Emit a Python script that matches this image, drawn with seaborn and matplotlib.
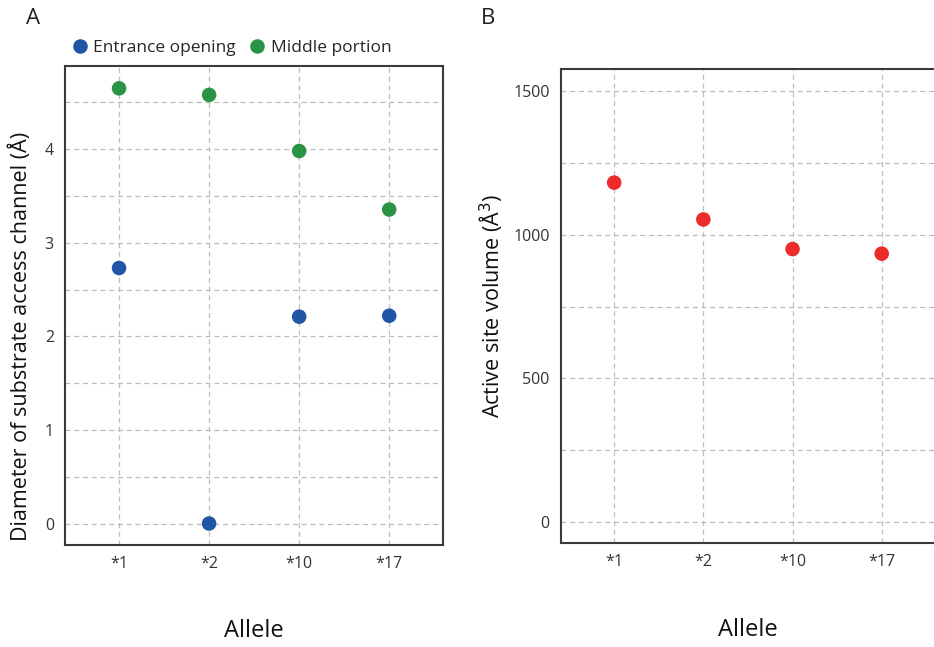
import matplotlib
matplotlib.use("Agg")
import matplotlib.pyplot as plt
import seaborn as sns
import pandas as pd
import numpy as np

alleles = ["*1", "*2", "*10", "*17"]
entrance = [2.73, 0.0, 2.21, 2.22]
middle = [4.65, 4.58, 3.98, 3.355]
volume = [1181, 1053, 950, 934]

series_names = ["Entrance opening", "Middle portion"]
colors = {"Entrance opening": "#2156a6", "Middle portion": "#2a9446"}
red = "#ee2b2b"

sns.set_theme(style="white")
plt.rcParams['font.family'] = ['Open Sans', 'DejaVu Sans']

dfA = pd.DataFrame({
    "Allele": alleles * 2,
    "value": entrance + middle,
    "series": [series_names[0]] * 4 + [series_names[1]] * 4,
})
dfB = pd.DataFrame({"Allele": alleles, "volume": volume})

fig = plt.figure(figsize=(9.34, 6.47), dpi=100)
axA = fig.add_axes([0.0696, 0.1576, 0.405, 0.740])
axB = fig.add_axes([0.6003, 0.1603, 0.401, 0.7326])

sns.scatterplot(data=dfA, x="Allele", y="value", hue="series", palette=colors,
                s=110, edgecolor="none", ax=axA, zorder=3)
sns.scatterplot(data=dfB, x="Allele", y="volume", color=red,
                s=110, edgecolor="none", ax=axB, zorder=3)

grid_kw = dict(color="#bdbdbd", linestyle=(0, (4, 3)), linewidth=0.9)
tick_color = "#333333"

# Panel A
axA.set_xlim(-0.6, 3.6)
axA.set_ylim(-0.23, 4.886)
axA.set_yticks(np.arange(0, 4.6, 0.5))
axA.set_yticklabels([str(int(v)) if v == int(v) else "" for v in np.arange(0, 4.6, 0.5)])
# Panel B
axB.set_xlim(-0.6, 3.6)
axB.set_ylim(-73, 1575)
axB.set_yticks(np.arange(0, 1501, 250))
axB.set_yticklabels([str(int(v)) if v % 500 == 0 else "" for v in np.arange(0, 1501, 250)])

for ax in (axA, axB):
    ax.grid(True, **grid_kw)
    ax.set_axisbelow(True)
    for sp in ax.spines.values():
        sp.set_color("#3a3a3a")
        sp.set_linewidth(1.5)
    ax.tick_params(axis="both", which="major", length=2, width=0.8, color="#666666",
                   labelsize=11.5, labelcolor=tick_color, pad=6)
    ax.set_xlabel("Allele", fontsize=17, labelpad=34, color="#111111")

axA.set_ylabel("Diameter of substrate access channel (Å)", fontsize=15.5, color="#111111")
axA.yaxis.set_label_coords(-0.087, 0.436)
axB.set_ylabel("Active site volume (Å$^3$)", fontsize=15.5, labelpad=6, color="#111111")

sns.move_legend(axA, "lower left", bbox_to_anchor=(-0.035, 1.0), ncol=2, frameon=False,
                title=None, fontsize=12.5, handletextpad=-0.2, columnspacing=0.2,
                markerscale=1.0, borderaxespad=0.2)

fig.text(0.035, 0.972, "A", fontsize=16, ha="center", va="center", color="#222222")
fig.text(0.523, 0.972, "B", fontsize=16, ha="center", va="center", color="#222222")

fig.savefig("out.png", dpi=100)
